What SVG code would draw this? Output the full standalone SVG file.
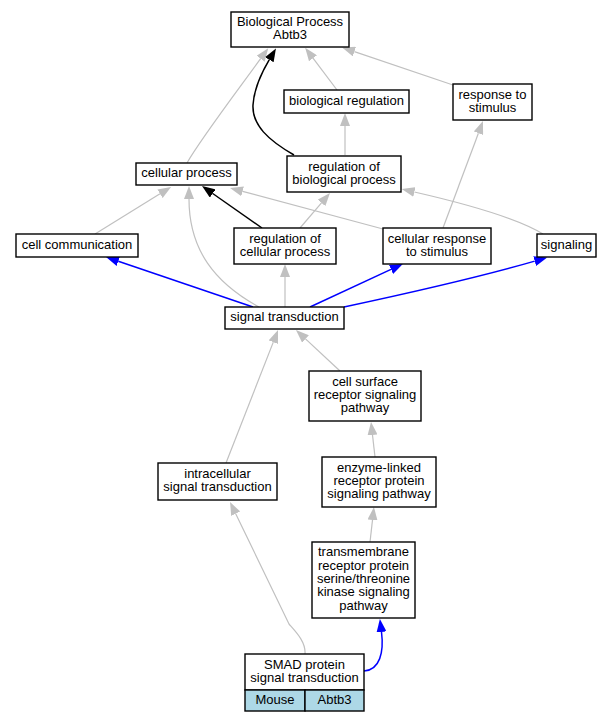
<svg xmlns="http://www.w3.org/2000/svg" width="613" height="723" viewBox="0 0 613 723">
<style>
.n rect{fill:#fff;stroke:#000;stroke-width:1.4}
.n rect.c{fill:#add8e6}
text{font-family:"Liberation Sans",Arial,sans-serif;font-size:13px;text-anchor:middle;fill:#000}
.e path{fill:none}
.g{stroke:#c0c0c0;stroke-width:1.2}
.k{stroke:#000;stroke-width:1.5}
.b{stroke:#0000ff;stroke-width:1.5}
</style>
<defs>
<marker id="ag" viewBox="0 0 13 10" refX="0" refY="5" markerWidth="13" markerHeight="10" markerUnits="userSpaceOnUse" orient="auto"><path d="M0,0 L13,5 L0,10 z" fill="#c0c0c0"/></marker>
<marker id="ak" viewBox="0 0 13 10" refX="0" refY="5" markerWidth="13" markerHeight="10" markerUnits="userSpaceOnUse" orient="auto"><path d="M0,0 L13,5 L0,10 z" fill="#000"/></marker>
<marker id="ab" viewBox="0 0 13 10" refX="0" refY="5" markerWidth="13" markerHeight="10" markerUnits="userSpaceOnUse" orient="auto"><path d="M0,0 L13,5 L0,10 z" fill="#0000ff"/></marker>
</defs>
<rect x="0" y="0" width="613" height="723" fill="#fff"/>
<g id="edges" class="e">
<path class="g" marker-end="url(#ag)" d="M337,90 L313,58.2"/>
<path class="g" marker-end="url(#ag)" d="M453,85 L354.4,51.6"/>
<path class="g" marker-end="url(#ag)" d="M187,163 C200,140 238,90 260.6,58.7"/>
<path class="k" marker-end="url(#ak)" d="M294,155 C268,140 252,125 253,105 C254,88 262,72 269.3,59.7"/>
<path class="g" marker-end="url(#ag)" d="M345,155 L345,126"/>
<path class="g" marker-end="url(#ag)" d="M443,228 L478.4,133.2"/>
<path class="k" marker-end="url(#ak)" d="M262,228 L212.7,193.5"/>
<path class="g" marker-end="url(#ag)" d="M300,228 L321.5,202.9"/>
<path class="g" marker-end="url(#ag)" d="M383,229 L242.6,191.4"/>
<path class="g" marker-end="url(#ag)" d="M543,234 C520,220 480,207 414.4,192"/>
<path class="g" marker-end="url(#ag)" d="M95,234 L160,193.8"/>
<path class="g" marker-end="url(#ag)" d="M259,307 C215,283 189,250 189,199"/>
<path class="g" marker-end="url(#ag)" d="M285,307 L285,277"/>
<path class="b" marker-end="url(#ab)" d="M253,307 L118.3,261.2"/>
<path class="b" marker-end="url(#ab)" d="M310,307 L391,269.4"/>
<path class="b" marker-end="url(#ab)" d="M344,307 C400,295 480,277 534.7,261.1"/>
<path class="g" marker-end="url(#ag)" d="M340,371 L305.5,338.9"/>
<path class="g" marker-end="url(#ag)" d="M226,463 L273.3,342.1"/>
<path class="g" marker-end="url(#ag)" d="M375,457 L372.5,435"/>
<path class="g" marker-end="url(#ag)" d="M370,542 L372.5,520"/>
<path class="g" marker-end="url(#ag)" d="M305,654 C306,642 296,632 289,624 L235.7,513.7"/>
<path class="b" marker-end="url(#ab)" d="M364,671 C380,670 384,652 381.5,632"/>
</g>
<g id="n_bp" class="n"><rect x="231" y="12" width="118" height="35"/><text x="290" y="26">Biological Process</text><text x="290" y="39.3">Abtb3</text></g>
<g id="n_bioreg" class="n"><rect x="284" y="90" width="125" height="23"/><text x="346.5" y="104.7">biological regulation</text></g>
<g id="n_resp" class="n"><rect x="453" y="84" width="79" height="36"/><text x="492.5" y="98.5">response to</text><text x="492.5" y="111.8">stimulus</text></g>
<g id="n_regbio" class="n"><rect x="287" y="156" width="114" height="36"/><text x="344" y="170.5">regulation of</text><text x="344" y="183.8">biological process</text></g>
<g id="n_cellproc" class="n"><rect x="136" y="163" width="101" height="22"/><text x="186.5" y="177.2">cellular process</text></g>
<g id="n_cellcomm" class="n"><rect x="16" y="234" width="122" height="23"/><text x="77" y="248.7">cell communication</text></g>
<g id="n_regcell" class="n"><rect x="234" y="228" width="102" height="36"/><text x="285" y="242.5">regulation of</text><text x="285" y="255.8">cellular process</text></g>
<g id="n_cellresp" class="n"><rect x="383" y="228" width="108" height="36"/><text x="437" y="242.5">cellular response</text><text x="437" y="255.8">to stimulus</text></g>
<g id="n_signaling" class="n"><rect x="537" y="234" width="59" height="23"/><text x="566.5" y="248.7">signaling</text></g>
<g id="n_sigtrans" class="n"><rect x="225" y="307" width="119" height="22"/><text x="284.5" y="321.2">signal transduction</text></g>
<g id="n_cellsurf" class="n"><rect x="309" y="371" width="112" height="50"/><text x="365" y="385.7">cell surface</text><text x="365" y="399">receptor signaling</text><text x="365" y="412.3">pathway</text></g>
<g id="n_intra" class="n"><rect x="158" y="463" width="119" height="37"/><text x="217.5" y="478">intracellular</text><text x="217.5" y="491.3">signal transduction</text></g>
<g id="n_enzyme" class="n"><rect x="322" y="457" width="114" height="50"/><text x="379" y="471.7">enzyme-linked</text><text x="379" y="485">receptor protein</text><text x="379" y="498.3">signaling pathway</text></g>
<g id="n_trans" class="n"><rect x="312" y="542" width="103" height="76"/><text x="363.5" y="556.4">transmembrane</text><text x="363.5" y="569.7">receptor protein</text><text x="363.5" y="583">serine/threonine</text><text x="363.5" y="596.3">kinase signaling</text><text x="363.5" y="609.6">pathway</text></g>
<g id="n_smad" class="n"><rect x="245" y="654" width="119" height="36"/><rect class="c" x="245" y="690" width="60" height="21"/><rect class="c" x="305" y="690" width="59" height="21"/><text x="304.5" y="668.5">SMAD protein</text><text x="304.5" y="681.8">signal transduction</text><text x="275" y="704">Mouse</text><text x="334.5" y="704">Abtb3</text></g>
</svg>
